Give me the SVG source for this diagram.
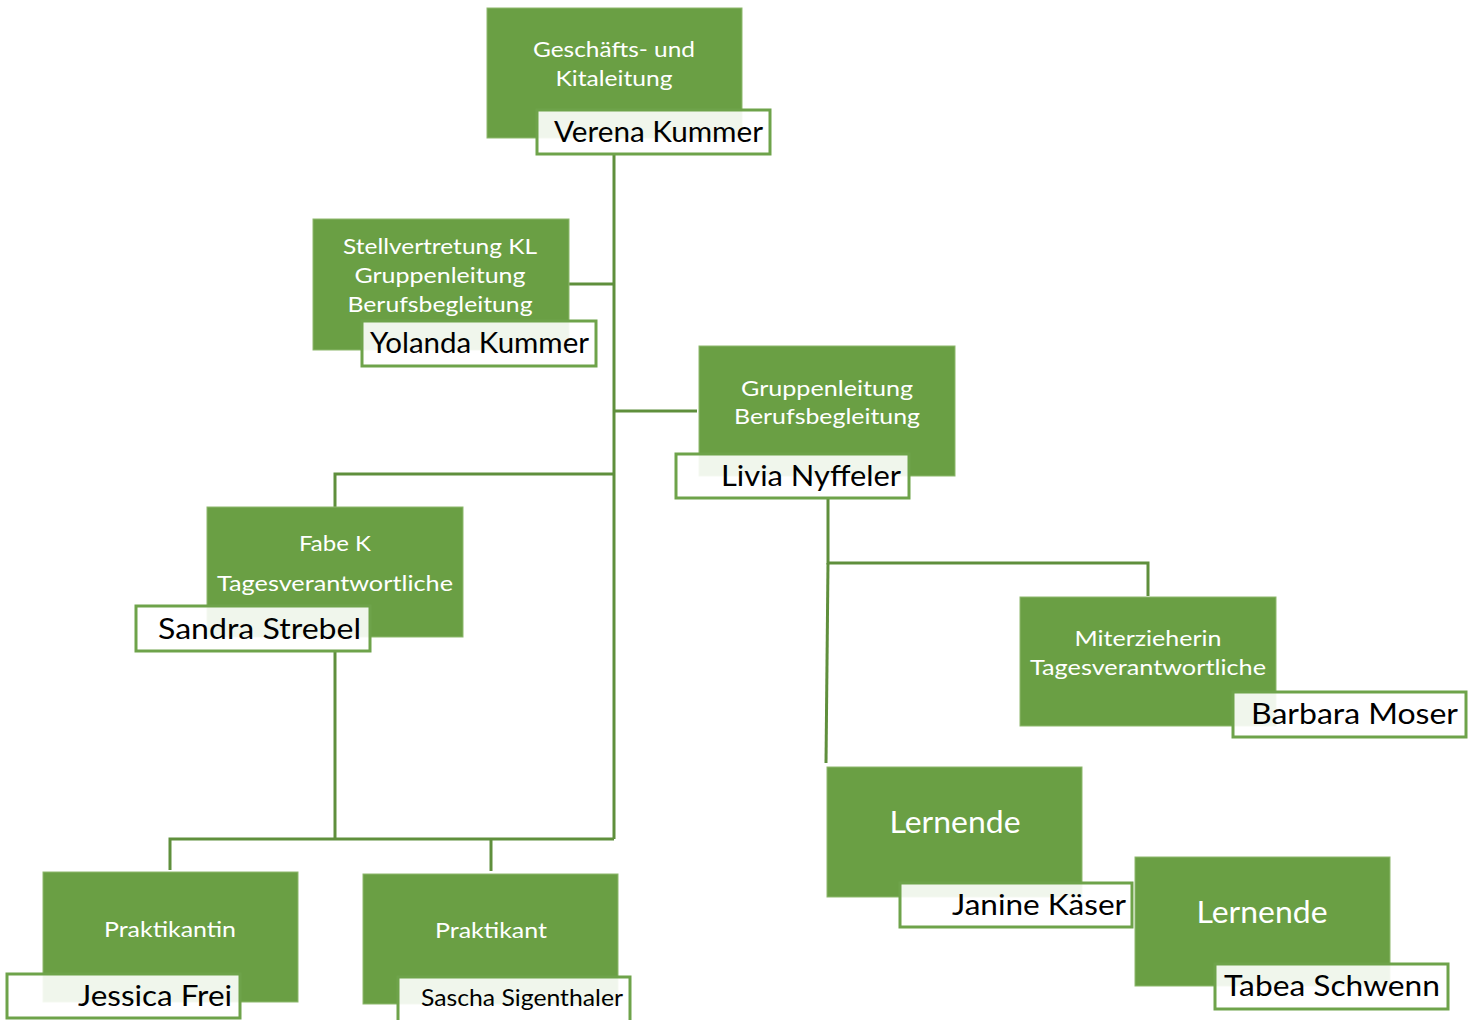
<svg xmlns="http://www.w3.org/2000/svg" width="1481" height="1020" viewBox="0 0 1481 1020">
<style>
.box{fill:#6a9f44;stroke:#8db86d;stroke-width:1}
.nm{fill:#ffffff;fill-opacity:0.9;stroke:#6ea34a;stroke-width:3}
.t{font-family:Lato,"Open Sans",sans-serif;fill:#ffffff;font-size:22px;text-anchor:middle}
.big{font-size:31px}
.n{font-family:Lato,"Open Sans",sans-serif;fill:#000000;font-size:29px}
.s{font-size:23px}
.c{fill:none;stroke:#5f8f3c;stroke-width:3}
</style>
<rect width="1481" height="1020" fill="#ffffff"/>
<g id="connectors">
<path class="c" d="M614 154 V839"/>
<path class="c" d="M569 284 H614"/>
<path class="c" d="M614 411 H697"/>
<path class="c" d="M614 474 H335 V507"/>
<path class="c" d="M335 651 V839"/>
<path class="c" d="M614 839 H170 V870"/>
<path class="c" d="M491 839 V871"/>
<path class="c" d="M828 498 V563 H1148 V596"/>
<path class="c" d="M828 563 L826 763"/>
</g>
<g id="n1">
<rect class="box" x="487" y="8" width="255" height="130"/>
<text class="t" x="614" y="57" textLength="162" lengthAdjust="spacingAndGlyphs">Geschäfts- und</text>
<text class="t" x="614" y="86" textLength="117" lengthAdjust="spacingAndGlyphs">Kitaleitung</text>
<rect class="nm" x="537" y="110" width="233" height="44"/>
<text class="n" x="554" y="142" textLength="209" lengthAdjust="spacingAndGlyphs">Verena Kummer</text>
</g>
<g id="n2">
<rect class="box" x="313" y="219" width="256" height="131"/>
<text class="t" x="440" y="254" textLength="194" lengthAdjust="spacingAndGlyphs">Stellvertretung KL</text>
<text class="t" x="440" y="283" textLength="171" lengthAdjust="spacingAndGlyphs">Gruppenleitung</text>
<text class="t" x="440" y="312" textLength="185" lengthAdjust="spacingAndGlyphs">Berufsbegleitung</text>
<rect class="nm" x="362" y="321" width="234" height="45"/>
<text class="n" x="370" y="353" textLength="219" lengthAdjust="spacingAndGlyphs">Yolanda Kummer</text>
</g>
<g id="n3">
<rect class="box" x="699" y="346" width="256" height="130"/>
<text class="t" x="827" y="396" textLength="172" lengthAdjust="spacingAndGlyphs">Gruppenleitung</text>
<text class="t" x="827" y="424" textLength="186" lengthAdjust="spacingAndGlyphs">Berufsbegleitung</text>
<rect class="nm" x="676" y="454" width="233" height="44"/>
<text class="n" x="721" y="486" textLength="180" lengthAdjust="spacingAndGlyphs">Livia Nyffeler</text>
</g>
<g id="n4">
<rect class="box" x="207" y="507" width="256" height="130"/>
<text class="t" x="335" y="551" textLength="72" lengthAdjust="spacingAndGlyphs">Fabe K</text>
<text class="t" x="335" y="591" textLength="236" lengthAdjust="spacingAndGlyphs">Tagesverantwortliche</text>
<rect class="nm" x="136" y="606" width="234" height="45"/>
<text class="n" x="158" y="639" textLength="203" lengthAdjust="spacingAndGlyphs">Sandra Strebel</text>
</g>
<g id="n5">
<rect class="box" x="1020" y="597" width="256" height="129"/>
<text class="t" x="1148" y="646" textLength="147" lengthAdjust="spacingAndGlyphs">Miterzieherin</text>
<text class="t" x="1148" y="675" textLength="236" lengthAdjust="spacingAndGlyphs">Tagesverantwortliche</text>
<rect class="nm" x="1233" y="692" width="233" height="45"/>
<text class="n" x="1251" y="724" textLength="207" lengthAdjust="spacingAndGlyphs">Barbara Moser</text>
</g>
<g id="n6">
<rect class="box" x="827" y="767" width="255" height="130"/>
<text class="t big" x="955" y="833" textLength="131" lengthAdjust="spacingAndGlyphs">Lernende</text>
<rect class="nm" x="900" y="883" width="232" height="44"/>
<text class="n" x="952" y="915" textLength="174" lengthAdjust="spacingAndGlyphs">Janine Käser</text>
</g>
<g id="n7">
<rect class="box" x="1135" y="857" width="255" height="129"/>
<text class="t big" x="1262" y="923" textLength="131" lengthAdjust="spacingAndGlyphs">Lernende</text>
<rect class="nm" x="1215" y="964" width="233" height="45"/>
<text class="n" x="1224" y="996" textLength="216" lengthAdjust="spacingAndGlyphs">Tabea Schwenn</text>
</g>
<g id="n8">
<rect class="box" x="43" y="872" width="255" height="130"/>
<text class="t" x="170" y="937" textLength="132" lengthAdjust="spacingAndGlyphs">Praktikantin</text>
<rect class="nm" x="7" y="974" width="233" height="44"/>
<text class="n" x="78" y="1006" textLength="154" lengthAdjust="spacingAndGlyphs">Jessica Frei</text>
</g>
<g id="n9">
<rect class="box" x="363" y="874" width="255" height="130"/>
<text class="t" x="491" y="938" textLength="112" lengthAdjust="spacingAndGlyphs">Praktikant</text>
<rect class="nm" x="398" y="977" width="232" height="46"/>
<text class="n s" x="421" y="1006" textLength="202" lengthAdjust="spacingAndGlyphs">Sascha Sigenthaler</text>
</g>
</svg>
